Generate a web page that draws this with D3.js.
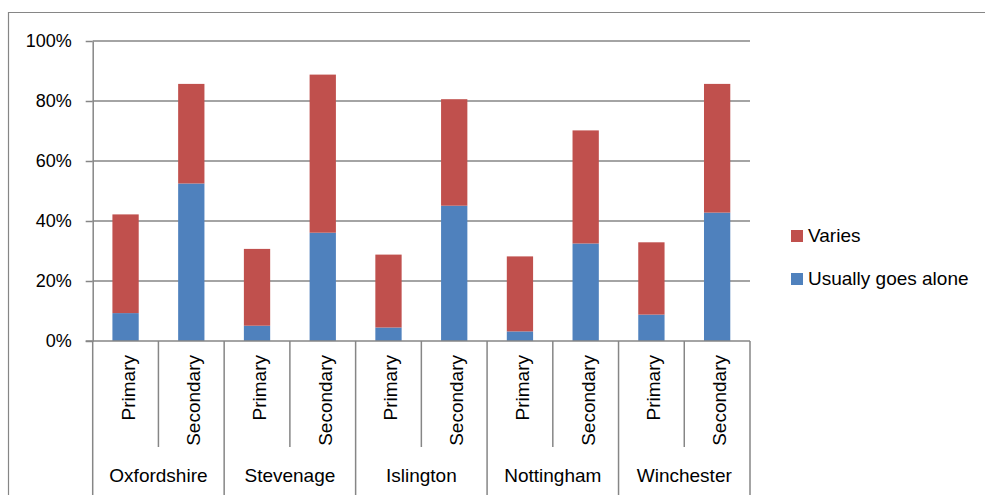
<!DOCTYPE html>
<html>
<head>
<meta charset="utf-8">
<script src="https://cdn.jsdelivr.net/npm/d3@7"></script>
<style>
  body { margin: 0; background: #fff; }
  svg { display: block; font-family: "Liberation Sans", Arial, sans-serif; }
</style>
</head>
<body>
<div id="chart"></div>
<script>
// Data (percent)
const districts = ["Oxfordshire", "Stevenage", "Islington", "Nottingham", "Winchester"];
const schoolTypes = ["Primary", "Secondary"];
const alone = [9.3, 52.5, 5.1, 36.1, 4.5, 45.1, 3.2, 32.5, 8.8, 42.8];
const varies = [32.9, 33.2, 25.6, 52.7, 24.3, 35.5, 25.0, 37.7, 24.1, 42.9];
const yTicks = [0, 0.2, 0.4, 0.6, 0.8, 1];
const seriesNames = ["Usually goes alone", "Varies"];
const legendOrder = ["Varies", "Usually goes alone"];

const COLORS = { "Usually goes alone": "#4F81BD", "Varies": "#C0504D" };
const AXIS = "#868686";

const width = 985, height = 495;
const plot = { left: 92.7, right: 750, top: 41, bottom: 341 };

const svg = d3.select("#chart")
  .append("svg")
  .attr("width", width)
  .attr("height", height);

// outer chart frame (runs off the right and bottom edges)
svg.append("path")
  .attr("d", `M8.5,${height + 2}V12.5H${width + 2}`)
  .attr("fill", "none")
  .attr("stroke", AXIS)
  .attr("stroke-width", 1.2);

// rows: one per district/school type
const rows = districts.flatMap((d, i) =>
  schoolTypes.map((t, j) => ({
    key: `${d}|${t}`,
    district: d,
    type: t,
    "Usually goes alone": alone[i * 2 + j] / 100,
    "Varies": varies[i * 2 + j] / 100,
  }))
);

const x = d3.scaleBand()
  .domain(rows.map((r) => r.key))
  .range([plot.left, plot.right])
  .paddingInner(0.6)
  .paddingOuter(0.3);

const y = d3.scaleLinear().domain([0, 1]).range([plot.bottom, plot.top]);

// gridlines
svg.append("g")
  .selectAll("line")
  .data(yTicks.filter((t) => t > 0))
  .join("line")
  .attr("x1", plot.left)
  .attr("x2", plot.right)
  .attr("y1", (d) => y(d))
  .attr("y2", (d) => y(d))
  .attr("stroke", AXIS)
  .attr("stroke-width", 1.5);

// stacked bars
const stacked = d3.stack().keys(seriesNames)(rows);

svg.append("g")
  .selectAll("g")
  .data(stacked)
  .join("g")
  .attr("fill", (s) => COLORS[s.key])
  .selectAll("rect")
  .data((s) => s)
  .join("rect")
  .attr("x", (d) => x(d.data.key))
  .attr("width", x.bandwidth())
  .attr("y", (d) => y(d[1]))
  .attr("height", (d) => y(d[0]) - y(d[1]));

// y axis
const yAxis = svg.append("g")
  .attr("transform", `translate(${plot.left},0)`)
  .call(
    d3.axisLeft(y)
      .tickValues(yTicks)
      .tickFormat(d3.format(".0%"))
      .tickSize(7)
      .tickSizeOuter(0)
      .tickPadding(14)
  );
yAxis.select(".domain").attr("stroke", AXIS).attr("stroke-width", 1.5);
yAxis.selectAll(".tick line").attr("stroke", AXIS).attr("stroke-width", 1.5);
yAxis.selectAll(".tick text")
  .attr("fill", "#000")
  .attr("font-size", 18)
  .attr("font-family", "Liberation Sans, Arial, sans-serif");

// extend left axis line down through the category label area
svg.append("line")
  .attr("x1", plot.left).attr("x2", plot.left)
  .attr("y1", plot.bottom).attr("y2", height)
  .attr("stroke", AXIS).attr("stroke-width", 1.5);

// x axis baseline
svg.append("line")
  .attr("x1", plot.left - 7).attr("x2", plot.right)
  .attr("y1", plot.bottom).attr("y2", plot.bottom)
  .attr("stroke", AXIS).attr("stroke-width", 1.5);

// category separators: short between school types, long between districts
const step = x.step();
const seps = d3.range(1, rows.length + 1);
svg.append("g")
  .selectAll("line")
  .data(seps)
  .join("line")
  .attr("x1", (k) => plot.left + k * step)
  .attr("x2", (k) => plot.left + k * step)
  .attr("y1", plot.bottom)
  .attr("y2", (k) => (k % 2 === 0 ? height : 447))
  .attr("stroke", AXIS)
  .attr("stroke-width", 1.5);

// rotated school type labels
svg.append("g")
  .selectAll("text")
  .data(rows)
  .join("text")
  .attr("transform", (d) => `translate(${x(d.key) + x.bandwidth() / 2 + 9},355) rotate(-90)`)
  .attr("text-anchor", "end")
  .attr("font-size", 19)
  .attr("fill", "#000")
  .text((d) => d.type);

// district labels
svg.append("g")
  .selectAll("text")
  .data(districts)
  .join("text")
  .attr("x", (d, i) => plot.left + (i * 2 + 1) * step)
  .attr("y", 482)
  .attr("text-anchor", "middle")
  .attr("font-size", 19)
  .attr("fill", "#000")
  .text((d) => d);

// legend
const legend = svg.append("g")
  .selectAll("g")
  .data(legendOrder)
  .join("g")
  .attr("transform", (d, i) => `translate(791,${230 + i * 43})`);

legend.append("rect")
  .attr("width", 12)
  .attr("height", 12)
  .attr("fill", (d) => COLORS[d]);

legend.append("text")
  .attr("x", 17)
  .attr("y", 12)
  .attr("font-size", 19)
  .attr("fill", "#000")
  .text((d) => d);
</script>
</body>
</html>
